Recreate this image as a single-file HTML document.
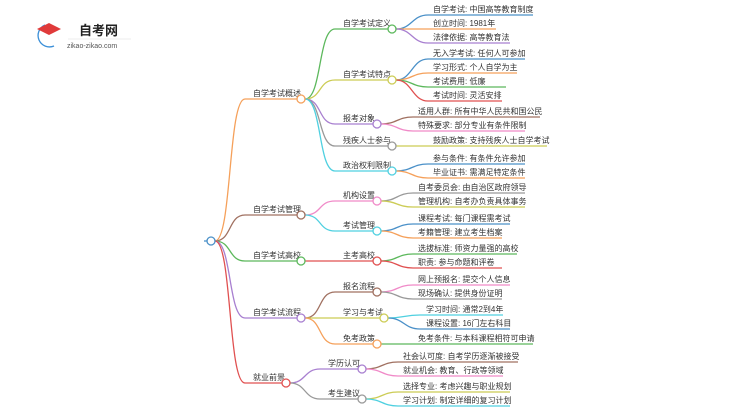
<!DOCTYPE html>
<html><head><meta charset="utf-8"><style>
html,body{margin:0;padding:0;background:#fff;width:750px;height:410px;overflow:hidden}
svg{display:block}
text{font-family:"Liberation Sans","Noto Sans CJK SC",sans-serif;font-size:8px;fill:#333}
path{fill:none;stroke-width:1.3}
circle{fill:#fff;stroke-width:1.3}
</style></head><body>
<svg width="750" height="410" viewBox="0 0 750 410">
<!-- logo -->
<path d="M45 25 A11 11 0 1 0 54 46" stroke="#3a8fd8" stroke-width="4.5"/>
<polygon points="37,29 49,23 61,29 49,35" fill="#e03a3a"/>
<path d="M41 31 L41 40 Q49 46 57 40 L57 31 L49 36 Z" fill="#e03a3a" stroke="none"/>
<text x="79" y="35" style="font-size:13px;font-weight:bold;fill:#222">自考网</text>
<line x1="68" y1="39" x2="131" y2="39" stroke="#ddd" stroke-width="0.6"/>
<text x="67" y="48" style="font-size:7px;fill:#555">zikao-zikao.com</text>

<!-- root -->
<path d="M204 241 L207 241" stroke="#4a90c8"/>
<!-- level 1 -->
<path d="M215 241 C232 241 228 99 245 99 L297 99" stroke="#f5a05a"/>
<path d="M215 241 C232 241 228 215 245 215 L297 215" stroke="#a07060"/>
<path d="M215 241 C232 241 228 261 245 261 L297 261" stroke="#5cb85c"/>
<path d="M215 241 C232 241 228 318 245 318 L297 318" stroke="#a87fd0"/>
<path d="M215 241 C232 241 228 383 245 383 L282 383" stroke="#e05050"/>
<circle cx="211" cy="241" r="4" stroke="#4a90c8"/>
<text x="253" y="96">自学考试概述</text>
<text x="253" y="212">自学考试管理</text>
<text x="253" y="258">自学考试高校</text>
<text x="253" y="315">自学考试流程</text>
<text x="253" y="380">就业前景</text>

<!-- level 2 -->
<path d="M305 99 C322 99 318 29 335 29 L388 29" stroke="#5cb85c"/>
<path d="M305 99 C322 99 318 80 335 80 L388 80" stroke="#cccc55"/>
<path d="M305 99 C322 99 318 124 335 124 L373 124" stroke="#a87fd0"/>
<path d="M305 99 C322 99 318 146 335 146 L388 146" stroke="#999"/>
<path d="M305 99 C322 99 318 171 335 171 L388 171" stroke="#4fd0e0"/>
<path d="M305 215 C322 215 318 201 335 201 L373 201" stroke="#f08ac8"/>
<path d="M305 215 C322 215 318 231 335 231 L373 231" stroke="#4fd0e0"/>
<path d="M305 261 L373 261" stroke="#e05050"/>
<path d="M305 318 C322 318 318 292 335 292 L373 292" stroke="#a07060"/>
<path d="M305 318 L380 318" stroke="#cccc55"/>
<path d="M305 318 C322 318 318 344 335 344 L373 344" stroke="#f5a05a"/>
<path d="M290 383 C306 383 304 369 320 369 L358 369" stroke="#a87fd0"/>
<path d="M290 383 C306 383 304 399 320 399 L358 399" stroke="#999"/>
<circle cx="301" cy="99" r="4" stroke="#f5a05a"/>
<circle cx="301" cy="215" r="4" stroke="#a07060"/>
<circle cx="301" cy="261" r="4" stroke="#5cb85c"/>
<circle cx="301" cy="318" r="4" stroke="#a87fd0"/>
<circle cx="286" cy="383" r="4" stroke="#e05050"/>
<text x="343" y="26">自学考试定义</text>
<text x="343" y="77">自学考试特点</text>
<text x="343" y="121">报考对象</text>
<text x="343" y="143">残疾人士参与</text>
<text x="343" y="168">政治权利限制</text>
<text x="343" y="198">机构设置</text>
<text x="343" y="228">考试管理</text>
<text x="343" y="258">主考高校</text>
<text x="343" y="289">报名流程</text>
<text x="343" y="315">学习与考试</text>
<text x="343" y="341">免考政策</text>
<text x="328" y="366">学历认可</text>
<text x="328" y="396">考生建议</text>

<!-- leaves -->
<path d="M396 29 C412 29 412 15 428 15 L533 15" stroke="#4a90c8"/>
<path d="M396 29 C412 29 412 29 428 29 L496 29" stroke="#f5a05a"/>
<path d="M396 29 C412 29 412 43 428 43 L510 43" stroke="#a87fd0"/>
<path d="M396 80 C412 80 412 59 428 59 L525 59" stroke="#4a90c8"/>
<path d="M396 80 C412 80 412 73 428 73 L517 73" stroke="#f5a05a"/>
<path d="M396 80 C412 80 412 87 428 87 L506 87" stroke="#5cb85c"/>
<path d="M396 80 C412 80 412 101 428 101 L502 101" stroke="#e05050"/>
<path d="M381 124 C397 124 397 117 413 117 L540 117" stroke="#a07060"/>
<path d="M381 124 C397 124 397 131 413 131 L525 131" stroke="#f08ac8"/>
<path d="M396 146 L547 146" stroke="#cccc55"/>
<path d="M396 171 C412 171 412 164 428 164 L525 164" stroke="#4a90c8"/>
<path d="M396 171 C412 171 412 178 428 178 L525 178" stroke="#f5a05a"/>
<path d="M381 201 C397 201 397 193 413 193 L525 193" stroke="#999"/>
<path d="M381 201 C397 201 397 207 413 207 L525 207" stroke="#cccc55"/>
<path d="M381 231 C397 231 397 224 413 224 L510 224" stroke="#4a90c8"/>
<path d="M381 231 C397 231 397 238 413 238 L502 238" stroke="#f5a05a"/>
<path d="M381 261 C397 261 397 254 413 254 L517 254" stroke="#5cb85c"/>
<path d="M381 261 C397 261 397 268 413 268 L502 268" stroke="#e05050"/>
<path d="M381 292 C397 292 397 285 413 285 L510 285" stroke="#f08ac8"/>
<path d="M381 292 C397 292 397 299 413 299 L502 299" stroke="#999"/>
<path d="M388 318 C404 318 404 315 420 315 L503 315" stroke="#4fd0e0"/>
<path d="M388 318 C404 318 404 329 420 329 L510 329" stroke="#4a90c8"/>
<path d="M381 344 L533 344" stroke="#5cb85c"/>
<path d="M366 369 C382 369 382 362 398 362 L518 362" stroke="#a07060"/>
<path d="M366 369 C382 369 382 376 398 376 L503 376" stroke="#f08ac8"/>
<path d="M366 399 C382 399 382 392 398 392 L510 392" stroke="#cccc55"/>
<path d="M366 399 C382 399 382 406 398 406 L510 406" stroke="#4fd0e0"/>

<circle cx="392" cy="29" r="4" stroke="#5cb85c"/>
<circle cx="392" cy="80" r="4" stroke="#cccc55"/>
<circle cx="377" cy="124" r="4" stroke="#a87fd0"/>
<circle cx="392" cy="146" r="4" stroke="#999"/>
<circle cx="392" cy="171" r="4" stroke="#4fd0e0"/>
<circle cx="377" cy="201" r="4" stroke="#f08ac8"/>
<circle cx="377" cy="231" r="4" stroke="#4fd0e0"/>
<circle cx="377" cy="261" r="4" stroke="#e05050"/>
<circle cx="377" cy="292" r="4" stroke="#a07060"/>
<circle cx="384" cy="318" r="4" stroke="#cccc55"/>
<circle cx="377" cy="344" r="4" stroke="#f5a05a"/>
<circle cx="362" cy="369" r="4" stroke="#a87fd0"/>
<circle cx="362" cy="399" r="4" stroke="#999"/>

<text x="433" y="12">自学考试: 中国高等教育制度</text>
<text x="433" y="26">创立时间: 1981年</text>
<text x="433" y="40">法律依据: 高等教育法</text>
<text x="433" y="56">无入学考试: 任何人可参加</text>
<text x="433" y="70">学习形式: 个人自学为主</text>
<text x="433" y="84">考试费用: 低廉</text>
<text x="433" y="98">考试时间: 灵活安排</text>
<text x="418" y="114">适用人群: 所有中华人民共和国公民</text>
<text x="418" y="128">特殊要求: 部分专业有条件限制</text>
<text x="433" y="143">鼓励政策: 支持残疾人士自学考试</text>
<text x="433" y="161">参与条件: 有条件允许参加</text>
<text x="433" y="175">毕业证书: 需满足特定条件</text>
<text x="418" y="190">自考委员会: 由自治区政府领导</text>
<text x="418" y="204">管理机构: 自考办负责具体事务</text>
<text x="418" y="221">课程考试: 每门课程需考试</text>
<text x="418" y="235">考籍管理: 建立考生档案</text>
<text x="418" y="251">选拔标准: 师资力量强的高校</text>
<text x="418" y="265">职责: 参与命题和评卷</text>
<text x="418" y="282">网上预报名: 提交个人信息</text>
<text x="418" y="296">现场确认: 提供身份证明</text>
<text x="426" y="312">学习时间: 通常2到4年</text>
<text x="426" y="326">课程设置: 16门左右科目</text>
<text x="418" y="341">免考条件: 与本科课程相符可申请</text>
<text x="403" y="359">社会认可度: 自考学历逐渐被接受</text>
<text x="403" y="373">就业机会: 教育、行政等领域</text>
<text x="403" y="389">选择专业: 考虑兴趣与职业规划</text>
<text x="403" y="403">学习计划: 制定详细的复习计划</text>
</svg>
</body></html>
